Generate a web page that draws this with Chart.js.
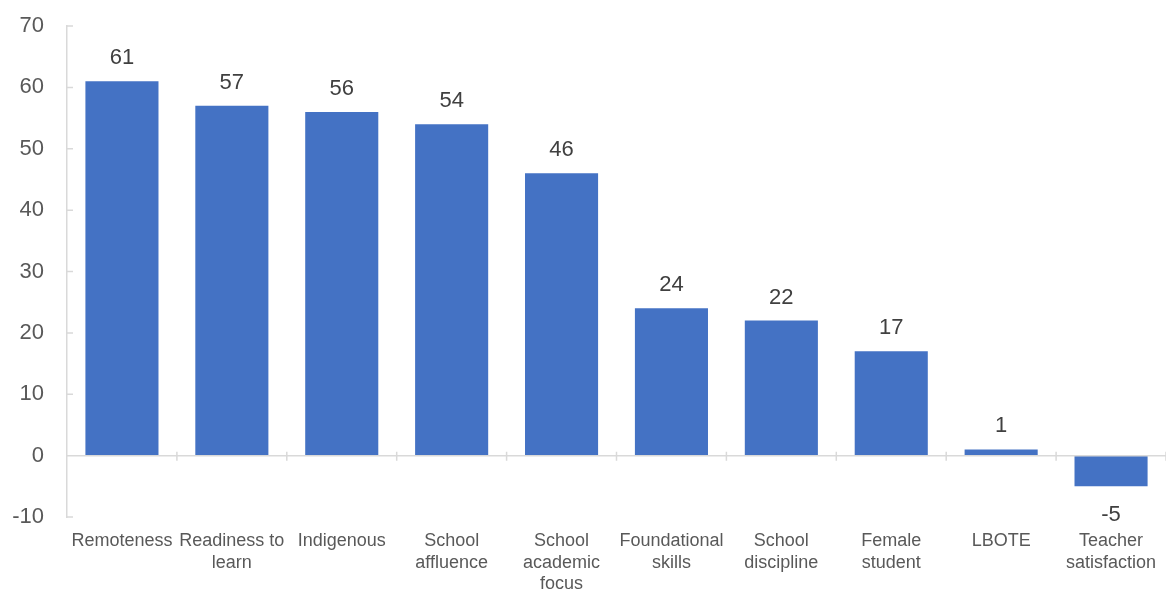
<!DOCTYPE html>
<html lang="en">
  <head>
    <meta charset="UTF-8" />
    <title>Factor contributions</title>
    <script src="https://cdn.jsdelivr.net/npm/chart.js"></script>
    <style>
      html, body { margin: 0; padding: 0; background: #fff; }
      #wrap { position: relative; width: 1166px; height: 590px; }
    </style>
  </head>
  <body>
    <div id="wrap"><canvas id="factorChart"></canvas></div>
    <script>
      const categories = [
        "Remoteness",
        ["Readiness to", "learn"],
        "Indigenous",
        ["School", "affluence"],
        ["School", "academic", "focus"],
        ["Foundational", "skills"],
        ["School", "discipline"],
        ["Female", "student"],
        "LBOTE",
        ["Teacher", "satisfaction"],
      ];
      const values = [61, 57, 56, 54, 46, 24, 22, 17, 1, -5];
      const yTicks = [-10, 0, 10, 20, 30, 40, 50, 60, 70];

      const axisGrey = "#d9d9d9";

      // zero line with category tick marks, plus the small ticks on the y axis
      const axisMarks = {
        id: "axisMarks",
        afterDatasetsDraw(chart) {
          const { ctx, scales: { x, y }, chartArea } = chart;
          const zero = y.getPixelForValue(0);
          ctx.save();
          ctx.strokeStyle = axisGrey;
          ctx.lineWidth = 1.5;
          ctx.beginPath();
          ctx.moveTo(chartArea.left, zero);
          ctx.lineTo(chartArea.right, zero);
          for (let i = 1; i < categories.length; i++) {
            const bx = (x.getPixelForValue(i - 1) + x.getPixelForValue(i)) / 2;
            ctx.moveTo(bx, zero - 4);
            ctx.lineTo(bx, zero + 5);
          }
          ctx.moveTo(chartArea.right, zero - 4);
          ctx.lineTo(chartArea.right, zero + 5);
          yTicks.forEach((t) => {
            const ty = y.getPixelForValue(t);
            ctx.moveTo(chartArea.left, ty);
            ctx.lineTo(chartArea.left + 6, ty);
          });
          ctx.stroke();
          ctx.restore();
        },
      };

      // value labels above (or below) each bar
      const barLabels = {
        id: "barLabels",
        afterDatasetsDraw(chart) {
          const { ctx } = chart;
          const meta = chart.getDatasetMeta(0);
          ctx.save();
          ctx.font = "22px 'Liberation Sans', Arial, sans-serif";
          ctx.fillStyle = "#404040";
          ctx.textAlign = "center";
          ctx.textBaseline = "alphabetic";
          meta.data.forEach((bar, i) => {
            const v = values[i];
            const ly = v >= 0 ? bar.y - 17 : bar.y + 35;
            ctx.fillText(String(v), bar.x, ly);
          });
          ctx.restore();
        },
      };

      new Chart(document.getElementById("factorChart"), {
        type: "bar",
        data: {
          labels: categories,
          datasets: [
            {
              data: values,
              backgroundColor: "#4472c4",
              barPercentage: 0.665,
              categoryPercentage: 1,
            },
          ],
        },
        options: {
          responsive: true,
          maintainAspectRatio: false,
          animation: false,
          layout: { padding: { top: 26, right: 0, bottom: 0, left: 0 } },
          plugins: {
            legend: { display: false },
            tooltip: { enabled: false },
          },
          scales: {
            x: {
              grid: { display: false },
              border: { display: false },
              ticks: {
                autoSkip: false,
                maxRotation: 0,
                minRotation: 0,
                padding: 6,
                color: "#595959",
                font: { family: "'Liberation Sans', Arial, sans-serif", size: 18, lineHeight: 1.17 },
              },
              afterFit(scale) {
                scale.height = 73;
              },
            },
            y: {
              min: -10,
              max: 70,
              grid: { display: false, drawTicks: false },
              border: { display: true, color: axisGrey, width: 1.5 },
              ticks: {
                stepSize: 10,
                padding: 23,
                color: "#595959",
                font: { family: "'Liberation Sans', Arial, sans-serif", size: 22 },
              },
              afterFit(scale) {
                scale.width = 67;
                scale.paddingTop = 0;
                scale.paddingBottom = 0;
              },
            },
          },
        },
        plugins: [axisMarks, barLabels],
      });
    </script>
  </body>
</html>
